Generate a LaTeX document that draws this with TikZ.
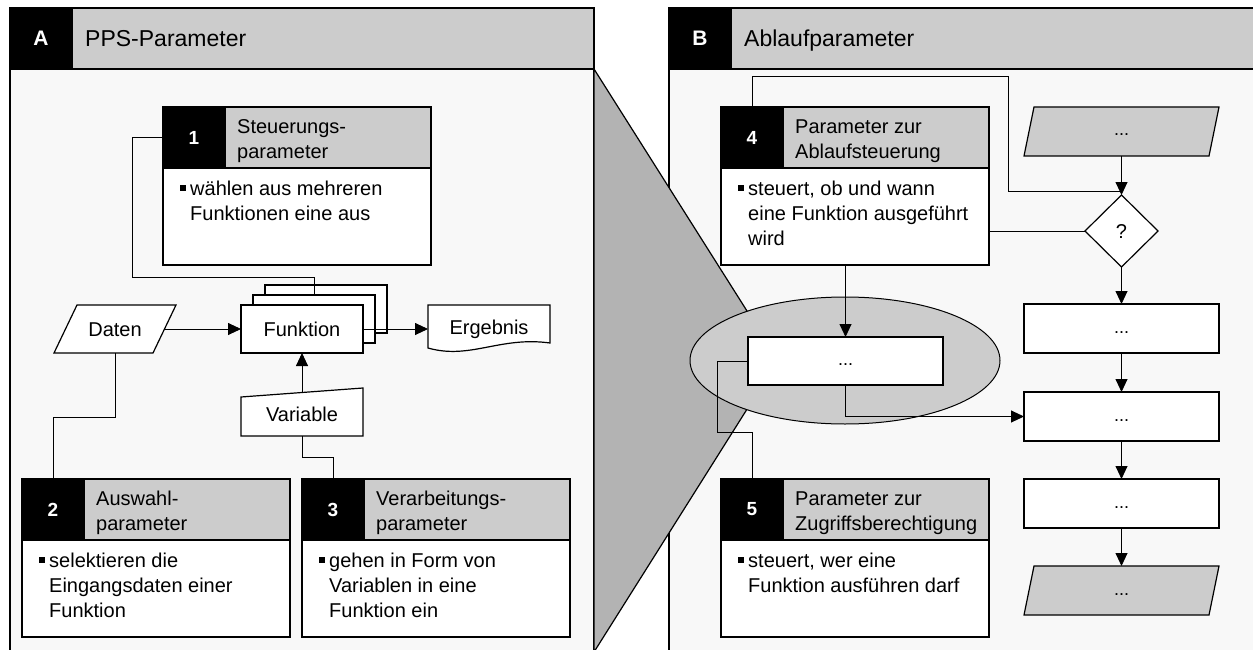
\documentclass[tikz,border=0pt]{standalone}
\usepackage{fontspec}
\setmainfont{Liberation Sans}
\usetikzlibrary{shapes.geometric,arrows.meta,calc}
\definecolor{hdr}{HTML}{CCCCCC}
\definecolor{pbg}{HTML}{F8F8F8}
\definecolor{fun}{HTML}{B3B3B3}
\newcommand\fsz[2]{\fontsize{#1}{#2}\selectfont}
\tikzset{
  box/.style={draw, line width=1.2pt, inner sep=0pt, outer sep=0pt, anchor=north west},
  numcell/.style={box, fill=black, text=white, font=\fsz{19}{23}\bfseries, minimum width=62pt, minimum height=61pt},
  titlecell/.style={box, fill=hdr, minimum width=206pt, minimum height=61pt},
  bodycell/.style={box, fill=white, minimum width=268pt, minimum height=97pt},
  cardtext/.style={anchor=north west, inner sep=0pt, font=\fsz{20}{25}},
  flow/.style={draw, line width=1.2pt, fill=white, inner sep=0pt, outer sep=0pt, font=\fsz{20}{25}, text height=14.3pt, text depth=0pt},
  ghost/.style={inner sep=0pt, outer sep=0pt, font=\fsz{20}{25}, text height=14.3pt, text depth=0pt},
  dots/.style={font=\fsz{18}{22}, text height=9pt, text depth=0pt},
  shapeline/.style={line width=1.2pt},
  conn/.style={line width=0.9pt},
  arr/.style={conn, -{Triangle[length=13pt,width=12pt]}},
}
\newcommand\pcard[6]{%
  \node[numcell] (#1n) at (#2,#3) {#4};
  \node[titlecell] (#1h) at (#2+62,#3) {};
  \node[bodycell] (#1b) at (#2,#3+61) {};
  \node[cardtext] (#1t) at (#2+74,#3+8.5) {\begin{tabular}{@{}l@{}}#5\end{tabular}};
  \node[cardtext] (#1x) at (#2+17,#3+70.5) {\begin{tabular}{@{}l@{\hspace{4.5pt}}l@{}}\rule[4.5pt]{5.5pt}{5.5pt} & #6\end{tabular}};
}
\begin{document}
\begin{tikzpicture}[x=1pt,y=-1pt,line join=miter]
\useasboundingbox (0,0) rectangle (1253,650);
\fill[white] (0,0) rectangle (1253,650);

% Panel A
\node[box, fill=pbg, minimum width=584pt, minimum height=600pt] (pAb) at (10,69) {};
\node[box, fill=black, text=white, font=\fsz{21}{25}\bfseries, minimum width=62pt, minimum height=61pt] (pAn) at (10,8) {A};
\node[box, fill=hdr, minimum width=522pt, minimum height=61pt] (pAh) at (72,8) {};
\node[anchor=base west, inner sep=0pt, font=\fsz{23}{28}] (pAt) at (85,47) {PPS-Parameter};

% Panel B
\node[box, fill=pbg, minimum width=600pt, minimum height=600pt] (pBb) at (669,69) {};
\node[box, fill=black, text=white, font=\fsz{21}{25}\bfseries, minimum width=62pt, minimum height=61pt] (pBn) at (669,8) {B};
\node[box, fill=hdr, minimum width=540pt, minimum height=61pt] (pBh) at (731,8) {};
\node[anchor=base west, inner sep=0pt, font=\fsz{23}{28}] (pBt) at (744,47) {Ablaufparameter};

% funnel and ellipse
\filldraw[fill=fun, shapeline] (594,69) -- (778,360) -- (594,652) -- cycle;
\node[ellipse, draw, fill=hdr, line width=1pt, inner sep=0pt, minimum width=310pt, minimum height=127pt] (ell) at (845,360.5) {};

% Panel A content
\pcard{c1}{163}{107}{1}{Steuerungs-\\parameter}{wählen aus mehreren\\ & Funktionen eine aus}
\pcard{c2}{22}{479}{2}{Auswahl-\\parameter}{selektieren die\\ & Eingangsdaten einer\\ & Funktion}
\pcard{c3}{302}{479}{3}{Verarbeitungs-\\parameter}{gehen in Form von\\ & Variablen in eine\\ & Funktion ein}

\node[flow, minimum width=122pt, minimum height=48pt] (f3) at (326,309) {};
\node[flow, minimum width=122pt, minimum height=48pt] (f2) at (314,319) {};
\node[flow, minimum width=122pt, minimum height=48pt] (f) at (302,329) {Funktion};

\filldraw[fill=white, shapeline] (77,305) -- (176,305) -- (153,353) -- (54,353) -- cycle;
\node[ghost, minimum width=99pt, minimum height=48pt] (daten) at (115,329) {Daten};

\filldraw[fill=white, shapeline] (241,397) -- (363,388) -- (363,436) -- (241,436) -- cycle;
\node[ghost, minimum width=122pt, minimum height=43.5pt] (var) at (302,414.25) {Variable};

\filldraw[fill=white, shapeline] (428,305) -- (550,305) -- (550,343) .. controls (500,336) and (470,360) .. (428,348) -- cycle;
\node[ghost, minimum width=122pt, minimum height=44pt] (erg) at (489,327) {Ergebnis};

\draw[conn] (c1n.west) -| (132,277) -| (f2.north);
\draw[arr] (daten.east) -- (f.west);
\draw[arr] (f.east) -- (erg.west |- f.east);
\draw[arr] (var.north) -- (f.south);
\draw[conn] (daten.south) -- ++(0,64) -| (c2n.north);
\draw[conn] (var.south) -- ++(0,21) -| (c3n.north);

% Panel B content
\pcard{c4}{721}{107}{4}{Parameter zur\\Ablaufsteuerung}{steuert, ob und wann\\ & eine Funktion ausgeführt\\ & wird}
\pcard{c5}{721}{479}{5}{Parameter zur\\Zugriffsberechtigung}{steuert, wer eine\\ & Funktion ausführen darf}

\node[flow, dots, minimum width=195pt, minimum height=48pt] (ib) at (845.5,361) {...};

\filldraw[fill=hdr, shapeline] (1034,107) -- (1219,107) -- (1209,156) -- (1024,156) -- cycle;
\node[ghost, dots, minimum width=195pt, minimum height=49pt] (in) at (1121.5,131.5) {...};
\node[flow, diamond, aspect=1, minimum width=73pt, minimum height=72pt] (dia) at (1121.5,231) {?};
\node[flow, dots, minimum width=195pt, minimum height=49pt] (r1) at (1121.5,328.5) {...};
\node[flow, dots, minimum width=195pt, minimum height=49pt] (r2) at (1121.5,416.5) {...};
\node[flow, dots, minimum width=195pt, minimum height=49pt] (r3) at (1121.5,503.5) {...};
\filldraw[fill=hdr, shapeline] (1034,566) -- (1219,566) -- (1209,615) -- (1024,615) -- cycle;
\node[ghost, dots, minimum width=195pt, minimum height=49pt] (out) at (1121.5,590.5) {...};

\draw[conn] (c4n.north) -- ++(0,-31) -| (1008,191) -- (1008,191 -| dia.north);
\draw[arr] (in.south) -- (dia.north);
\draw[conn] (dia.west) -- (dia.west -| c4b.east);
\draw[arr] (dia.south) -- (r1.north);
\draw[arr] (r1.south) -- (r2.north);
\draw[arr] (r2.south) -- (r3.north);
\draw[arr] (r3.south) -- (out.north);
\draw[arr] (c4b.south -| ib.north) -- (ib.north);
\draw[arr] (ib.south) |- (r2.west);
\draw[conn] (c5n.north) -- ++(0,-47) -| ([xshift=-31pt]ib.west) -- (ib.west);
\end{tikzpicture}
\end{document}
